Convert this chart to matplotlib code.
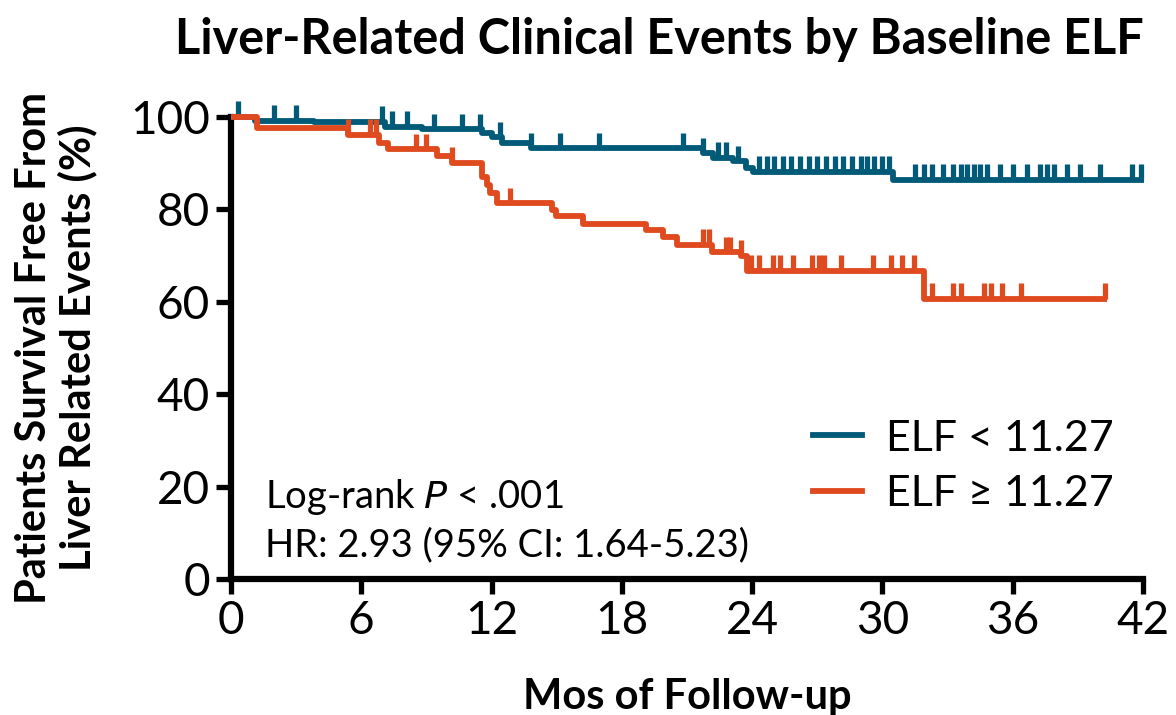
import numpy as np
import matplotlib
matplotlib.use("Agg")
import matplotlib.pyplot as plt
from matplotlib.lines import Line2D

plt.rcParams['font.family'] = ['Lato', 'DejaVu Sans']

# ---- data ----
title = "Liver-Related Clinical Events by Baseline ELF"
xlabel = "Mos of Follow-up"
ylabel = "Patients Survival Free From\nLiver Related Events (%)"
labels = ["ELF < 11.27", "ELF \u2265 11.27"]
colors = ["#015a78", "#e04a1f"]
xticks = [0, 6, 12, 18, 24, 30, 36, 42]
yticks = [0, 20, 40, 60, 80, 100]

# ELF < 11.27 : step times and survival after each step
low_t = [0, 1.1, 3.8, 7.1, 8.8, 11.55, 12.0, 12.5, 13.8, 21.75, 22.2, 23.1, 23.7, 24.05, 30.5]
low_s = [100, 99.2, 99.0, 97.9, 97.3, 96.6, 95.6, 94.4, 93.2, 92.1, 91.1, 90.4, 89.0, 88.2, 86.4]
low_end = 42.05
low_cens = [0.32, 2.0, 3.0, 6.95, 7.4, 8.1, 9.35, 10.65, 11.45, 12.4, 13.8, 15.15, 16.95,
            20.8, 21.75, 22.45, 22.8, 23.35, 24.3, 24.7, 25.0, 25.4, 25.8, 26.2, 26.6, 27.0,
            27.4, 27.8, 28.2, 28.6, 29.0, 29.3, 29.6, 30.0, 30.3, 31.5, 31.9, 32.3, 32.8,
            33.25, 33.6, 33.9, 34.2, 34.5, 34.8, 35.4, 36.0, 36.65, 37.25, 37.6, 37.9,
            38.5, 39.1, 40.0, 41.5, 41.9]

# ELF >= 11.27
high_t = [0, 1.2, 5.4, 6.8, 7.25, 9.5, 10.2, 11.55, 11.8, 11.95, 12.25, 14.8, 14.95, 16.2,
          19.1, 19.9, 20.55, 22.15, 23.5, 23.75, 31.9]
high_s = [100, 97.7, 96.1, 94.3, 93.0, 91.6, 90.0, 87.1, 85.3, 83.5, 81.3, 79.8, 78.5, 76.8,
          75.5, 74.1, 72.4, 70.7, 70.0, 66.7, 60.6]
high_end = 40.35
high_cens = [5.4, 6.4, 6.7, 8.5, 9.0, 10.2, 12.85, 21.75, 22.0, 22.8, 23.0, 23.5, 23.95,
             24.3, 24.95, 25.3, 25.9, 26.75, 27.1, 27.3, 28.1, 29.55, 30.4, 30.9, 31.45,
             32.3, 33.25, 33.6, 34.7, 35.0, 35.5, 36.4, 40.25]

fig = plt.figure(figsize=(11.76, 7.15), dpi=100)
ax = fig.add_axes([231/1176, 1-579/715, (1143-231)/1176, (579-117)/715])

lw = 4.2
tick_h = 3.4
for t, s, end, cens, col in [(low_t, low_s, low_end, low_cens, colors[0]),
                             (high_t, high_s, high_end, high_cens, colors[1])]:
    tt = np.array(t + [end])
    ss = np.array(s + [s[-1]])
    ax.step(tt, ss, where='post', color=col, lw=lw, clip_on=False, solid_capstyle='butt', zorder=3)
    c = np.array(cens)
    idx = np.searchsorted(np.array(t), c, side='right') - 1
    base = np.array(s)[idx]
    ax.vlines(c, base, base + tick_h, color=col, lw=lw*0.9, clip_on=False, zorder=3)

ax.set_xlim(0, 42)
ax.set_ylim(0, 100)
ax.set_xticks(xticks)
ax.set_yticks(yticks)
for sp in ['top', 'right']:
    ax.spines[sp].set_visible(False)
for sp in ['left', 'bottom']:
    ax.spines[sp].set_linewidth(4.5)
ax.tick_params(axis='both', width=3.8, length=11, labelsize=33, pad=4)

ax.set_xlabel(xlabel, fontsize=30, fontweight='bold', labelpad=26)
ax.set_ylabel(ylabel, fontsize=30, fontweight='bold', labelpad=24, linespacing=1.12)
fig.text(659/1176, 1-40/715, title, fontsize=35, fontweight='bold', ha='center', va='center')

ax.text(265/1176, 1-497/715, r"Log-rank $\mathit{P}$ < .001", transform=fig.transFigure,
        fontsize=27.5, va='center', ha='left')
ax.text(265/1176, 1-545/715, "HR: 2.93 (95% CI: 1.64-5.23)", transform=fig.transFigure,
        fontsize=27.5, va='center', ha='left')

handles = [Line2D([0], [0], color=colors[0], lw=lw), Line2D([0], [0], color=colors[1], lw=lw)]
leg = ax.legend(handles, labels, loc='upper left', bbox_to_anchor=(791/1176, 1-398/715),
                bbox_transform=fig.transFigure, frameon=False, fontsize=31,
                handlelength=1.15, handletextpad=0.55, labelspacing=0.4, borderpad=0)

fig.savefig("out.png", dpi=100)
